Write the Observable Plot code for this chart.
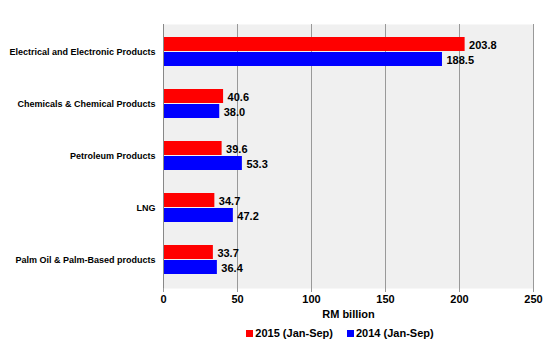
<!DOCTYPE html>
<html><head><meta charset="utf-8">
<script src="https://cdn.jsdelivr.net/npm/d3@7"></script>
<script src="https://cdn.jsdelivr.net/npm/@observablehq/plot@0.6"></script>
<style>
body{margin:0;background:#fff;font-family:"Liberation Sans",Arial,sans-serif;}
#legend{display:flex;justify-content:center;gap:14px;font-weight:bold;font-size:11px;margin-left:130px;margin-top:5px;}
#legend span.sw{display:inline-block;width:7px;height:7px;margin-right:2px;}
</style></head><body>
<div id="chart"></div>
<div id="legend"></div>
<script>
const categories = ["Electrical and Electronic Products","Chemicals & Chemical Products","Petroleum Products","LNG","Palm Oil & Palm-Based products"];
const values2015 = [203.8, 40.6, 39.6, 34.7, 33.7];
const values2014 = [188.5, 38.0, 53.3, 47.2, 36.4];
const seriesNames = ["2015 (Jan-Sep)","2014 (Jan-Sep)"];
const seriesColors = ["#ff0000","#0000ff"];
const xTicks = [0,50,100,150,200,250];

const d15 = categories.map((c,i)=>({cat:c,v:values2015[i]}));
const d14 = categories.map((c,i)=>({cat:c,v:values2014[i]}));

const chart = Plot.plot({
  width:550, height:322,
  marginLeft:163, marginRight:17, marginTop:24, marginBottom:34,
  style:{fontFamily:"Liberation Sans, Arial, sans-serif", fontWeight:"bold", fontSize:"11px", color:"#000"},
  x:{domain:[0,250], ticks:xTicks, label:null},
  y:{domain:categories, paddingInner:0.434, paddingOuter:0.21, label:null},
  marks:[
    Plot.frame({fill:"#f0f0f0", stroke:null}),
    Plot.gridX(xTicks.slice(1), {stroke:"#999", strokeOpacity:1}),
    Plot.ruleY([0],{frameAnchor:"bottom", stroke:"#999"}),
    Plot.barX(d15,{x:"v", y:"cat", fill:seriesColors[0], insetBottom:15}),
    Plot.barX(d14,{x:"v", y:"cat", fill:seriesColors[1], insetTop:15}),
    Plot.ruleX([0],{stroke:"#888"}),
    Plot.text(d15,{x:"v", y:"cat", text:d=>d.v.toFixed(1), dy:-7, dx:4, textAnchor:"start", fontSize:11, fontWeight:"bold"}),
    Plot.text(d14,{x:"v", y:"cat", text:d=>d.v.toFixed(1), dy:8, dx:4, textAnchor:"start", fontSize:11, fontWeight:"bold"}),
    Plot.axisX(xTicks,{tickSize:4, tickPadding:3, stroke:"#999", fontSize:11, fontWeight:"bold", label:null}),
    Plot.axisY({tickSize:0, tickPadding:8, fontSize:9, fontWeight:"bold", label:null}),
    Plot.text(["RM billion"],{frameAnchor:"bottom", dy:29, fontSize:11, fontWeight:"bold"})
  ]
});
document.getElementById("chart").appendChild(chart);
document.getElementById("legend").innerHTML = seriesNames.map((n,i)=>`<span><span class="sw" style="background:${seriesColors[i]}"></span>${n}</span>`).join("");
</script>
</body></html>
